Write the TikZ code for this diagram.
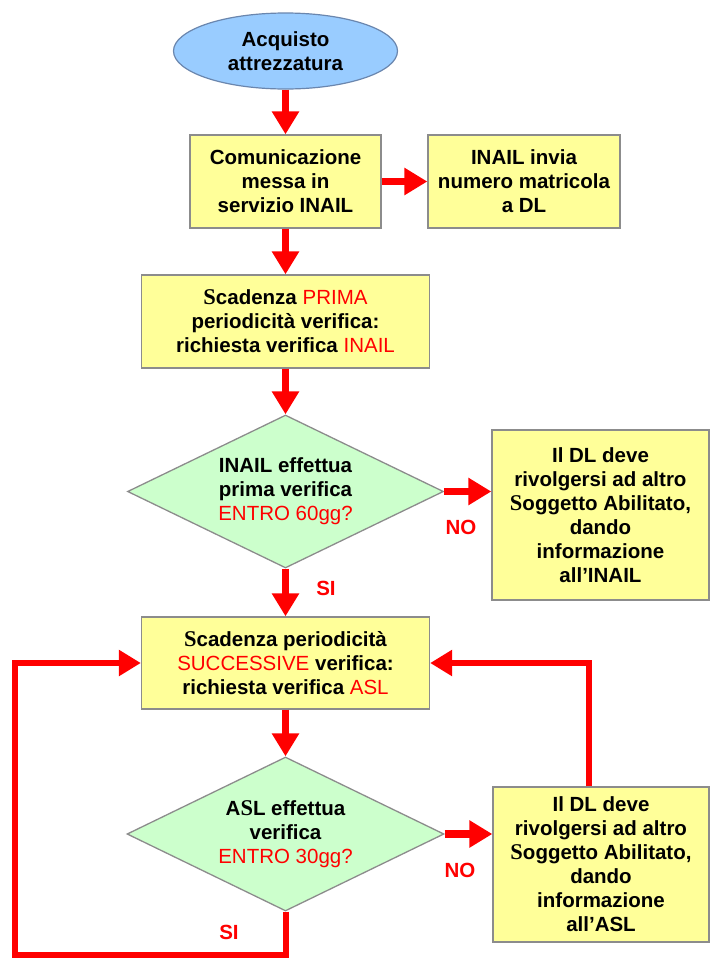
\documentclass[tikz,border=0pt]{standalone}
\usepackage{fontspec}
\setmainfont{Liberation Sans}
\newfontfamily\serfont{Liberation Serif}
\usetikzlibrary{shapes.geometric,arrows.meta}
\definecolor{boxfill}{HTML}{FFFF99}
\definecolor{diafill}{HTML}{CCFFCC}
\definecolor{ellfill}{HTML}{99CCFF}
\definecolor{ellline}{HTML}{6A86AE}
\definecolor{bordergray}{HTML}{8C8C8C}
\definecolor{myred}{HTML}{FF0000}
\newcommand{\rt}[1]{{\mdseries\color{myred}#1}}
\newcommand{\sS}{{\serfont\fontsize{22.5}{24}\selectfont S}}
\tikzset{
  x=1pt, y=-1pt,
  txt/.style={font=\bfseries\fontsize{20.5}{24}\selectfont, align=center, text=black},
  procbox/.style={txt, draw=bordergray, fill=boxfill, line width=1.3pt, inner sep=0pt},
  decision/.style={txt, shape=diamond, aspect=2.07, draw=bordergray, fill=diafill, line width=1.3pt, inner sep=0pt},
  startnode/.style={txt, shape=ellipse, draw=ellline, fill=ellfill, line width=1.2pt, inner sep=0pt},
  flow/.style={draw=myred, line width=7.5pt, -{Triangle[length=23pt,width=26pt]}},
  loopflow/.style={draw=myred, line width=6pt, -{Triangle[length=22pt,width=25pt]}, line join=miter},
  lbl/.style={font=\bfseries\fontsize{20.5}{24}\selectfont, text=myred}
}
\begin{document}
\begin{tikzpicture}
\useasboundingbox (0,0) rectangle (710,959);
\fill[white] (0,0) rectangle (710,959);

\node[startnode, minimum width=224pt, minimum height=76pt] (start) at (285.5,51) {Acquisto\\attrezzatura};
\node[procbox, minimum width=191pt, minimum height=93pt] (com) at (285.5,181.5) {Comunicazione\\messa in\\servizio INAIL};
\node[procbox, minimum width=192pt, minimum height=93pt] (inv) at (524,181.5) {INAIL invia\\numero matricola\\a DL};
\node[procbox, minimum width=288pt, minimum height=93pt] (prima) at (285.5,321.5) {\sS cadenza \rt{PRIMA}\\periodicità verifica:\\richiesta verifica \rt{INAIL}};
\node[decision, minimum width=316pt, minimum height=153pt] (d1) at (285.5,491.5) {INAIL effettua\\prima verifica\\\rt{ENTRO 60gg?}};
\node[procbox, minimum width=217pt, minimum height=170pt] (alt1) at (600.5,515) {Il DL deve\\rivolgersi ad altro\\\sS oggetto Abilitato,\\dando\\informazione\\all’INAIL};
\node[procbox, minimum width=288pt, minimum height=92pt] (succ) at (285.5,663) {\sS cadenza periodicità\\\rt{SUCCESSIVE} verifica:\\richiesta verifica \rt{ASL}};
\node[decision, minimum width=317pt, minimum height=154pt] (d2) at (285.5,834) {A\sS L effettua\\verifica\\\rt{ENTRO 30gg?}};
\node[procbox, minimum width=216pt, minimum height=155pt] (alt2) at (601,864.5) {Il DL deve\\rivolgersi ad altro\\\sS oggetto Abilitato,\\dando\\informazione\\all’ASL};

\coordinate (lb) at (15,955);
\coordinate (lt) at (15,663);

\draw[flow] (start.south) -- (com.north);
\draw[flow] (com.east) -- (inv.west);
\draw[flow] (com.south) -- (prima.north);
\draw[flow] (prima.south) -- (d1.north);
\draw[flow] (d1.east) -- (alt1.west |- d1.east);
\draw[flow] (d1.south) -- (succ.north);
\draw[flow] (succ.south) -- (d2.north);
\draw[flow] (d2.east) -- (alt2.west |- d2.east);
\draw[loopflow] (alt2.north -| 589,0) |- (succ.east);
\draw[loopflow] (d2.south) -- (d2.south |- lb) -- (lb) -- (lt) -- (succ.west);

\node[lbl] (no1) at (461,527) {NO};
\node[lbl] (si1) at (326,588) {SI};
\node[lbl] (no2) at (460,870) {NO};
\node[lbl] (si2) at (229,932) {SI};
\end{tikzpicture}
\end{document}
